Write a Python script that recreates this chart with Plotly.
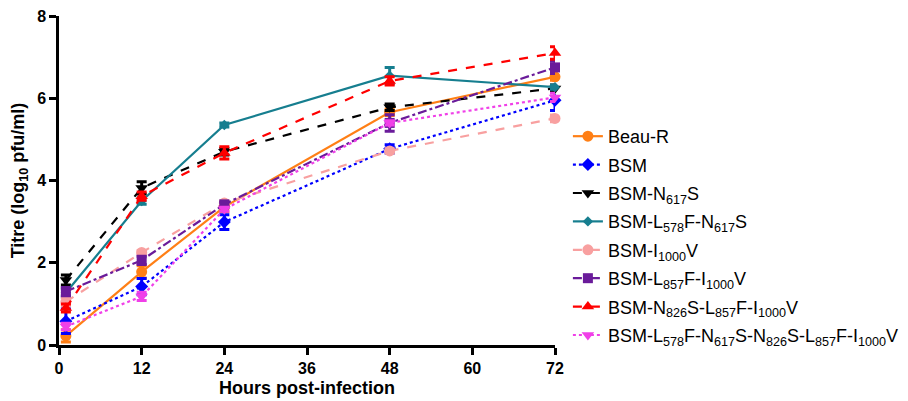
import plotly.graph_objects as go

hours = [1, 12, 24, 48, 72]

names = [
    "Beau-R",
    "BSM",
    "BSM-N<sub>617</sub>S",
    "BSM-L<sub>578</sub>F-N<sub>617</sub>S",
    "BSM-I<sub>1000</sub>V",
    "BSM-L<sub>857</sub>F-I<sub>1000</sub>V",
    "BSM-N<sub>826</sub>S-L<sub>857</sub>F-I<sub>1000</sub>V",
    "BSM-L<sub>578</sub>F-N<sub>617</sub>S-N<sub>826</sub>S-L<sub>857</sub>F-I<sub>1000</sub>V",
]

beau_r = [0.22, 1.78, 3.36, 5.66, 6.52]
beau_r_err = [0.15, 0.15, 0.12, 0.08, 0.08]
bsm = [0.58, 1.42, 2.99, 4.77, 5.95]
bsm_err = [0.3, 0.2, 0.18, 0.1, 0.25]
bsm_n617s = [1.58, 3.82, 4.70, 5.78, 6.24]
bsm_n617s_err = [0.12, 0.15, 0.08, 0.08, 0.08]
bsm_l578f_n617s = [1.27, 3.50, 5.35, 6.55, 6.27]
bsm_l578f_n617s_err = [0.1, 0.08, 0.05, 0.2, 0.05]
bsm_i1000v = [1.05, 2.25, 3.45, 4.72, 5.51]
bsm_i1000v_err = [0.1, 0.05, 0.05, 0.05, 0.08]
bsm_l857f_i1000v = [1.30, 2.06, 3.42, 5.40, 6.75]
bsm_l857f_i1000v_err = [0.1, 0.1, 0.05, 0.2, 0.15]
bsm_n826s_l857f_i1000v = [0.90, 3.62, 4.67, 6.42, 7.10]
bsm_n826s_l857f_i1000v_err = [0.1, 0.1, 0.15, 0.1, 0.15]
bsm_all = [0.45, 1.18, 3.30, 5.40, 6.02]
bsm_all_err = [0.08, 0.1, 0.05, 0.05, 0.1]

series = [beau_r, bsm, bsm_n617s, bsm_l578f_n617s, bsm_i1000v,
          bsm_l857f_i1000v, bsm_n826s_l857f_i1000v, bsm_all]
errors = [beau_r_err, bsm_err, bsm_n617s_err, bsm_l578f_n617s_err, bsm_i1000v_err,
          bsm_l857f_i1000v_err, bsm_n826s_l857f_i1000v_err, bsm_all_err]

colors = ["#FF7F15", "#0000FF", "#000000", "#167E8F", "#F8A0A0",
          "#6A1B9A", "#FF0000", "#F040E8"]
dashes = ["solid", "dot", "dash", "solid", "dash", "dashdot", "dash", "dot"]
symbols = ["circle", "diamond", "triangle-down", "diamond", "circle",
           "square", "triangle-up", "triangle-down"]
sizes = [11, 10, 11, 8, 11, 10, 11, 11]

fig = go.Figure()
for i, (name, y, e, c, d, s, sz) in enumerate(zip(names, series, errors, colors, dashes, symbols, sizes)):
    fig.add_trace(go.Scatter(
        x=hours, y=y, name=name, mode="lines+markers", legendgroup=f"g{i}",
        line=dict(color=c, width=2.2, dash=d),
        marker=dict(color=c, symbol=s, size=sz),
        error_y=dict(type="data", array=e, color=c, thickness=3, width=5, visible=True),
        cliponaxis=False,
    ))

fig.update_layout(
    width=900, height=393,
    margin=dict(l=51, r=353, t=8, b=56, autoexpand=False),
    paper_bgcolor="white", plot_bgcolor="white",
    font=dict(family="Liberation Sans, Arial, sans-serif", color="black"),
    showlegend=True,
    legend=dict(x=1.026, y=0.69, xanchor="left", yanchor="top",
                font=dict(size=18, color="black"), itemwidth=30,
                tracegroupgap=2, bgcolor="rgba(0,0,0,0)"),
    xaxis=dict(
        range=[0, 72], tickvals=[0, 12, 24, 36, 48, 60, 72], automargin=False,
        ticklabeloverflow="allow",
        showgrid=False, zeroline=False, showline=True, linecolor="black", linewidth=2.5,
        ticks="outside", ticklen=7, tickwidth=2.5, tickcolor="black",
        tickfont=dict(size=16, family="Liberation Sans, Arial", weight="bold"),
        title=dict(text="<b>Hours post-infection</b>", font=dict(size=18), standoff=6),
    ),
    yaxis=dict(
        range=[0, 8], tickvals=[0, 2, 4, 6, 8], automargin=False,
        ticklabeloverflow="allow",
        showgrid=False, zeroline=False, showline=True, linecolor="black", linewidth=2.5,
        ticks="outside", ticklen=7, tickwidth=2.5, tickcolor="black",
        tickfont=dict(size=16, family="Liberation Sans, Arial", weight="bold"),
        title=dict(text="<b>Titre (log<sub>10</sub> pfu/ml)</b>", font=dict(size=18), standoff=8),
    ),
)

fig.write_html("out.html")
